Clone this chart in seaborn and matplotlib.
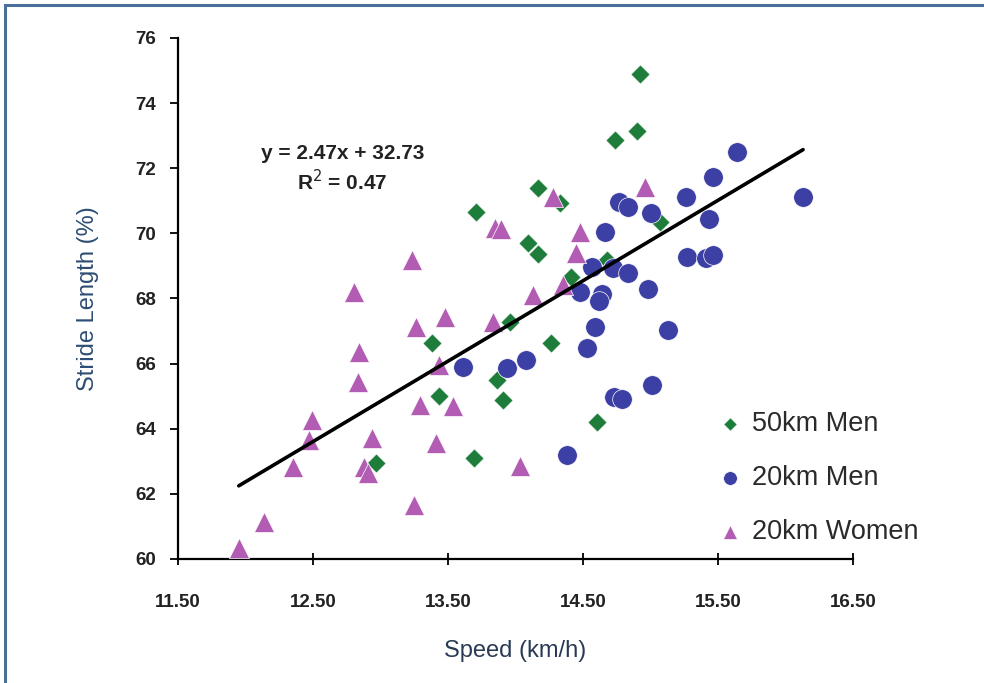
import numpy as np
import pandas as pd
import matplotlib
matplotlib.use("Agg")
import matplotlib.pyplot as plt
import seaborn as sns
from matplotlib.patches import Rectangle

# ---- data ----
speed_50m = [14.92, 14.90, 14.74, 14.17, 14.33, 13.71, 14.09, 14.17, 14.41, 13.96,
             13.38, 14.26, 13.86, 13.43, 13.91, 13.69, 14.60, 12.97, 14.68, 15.07]
stride_50m = [74.89, 73.14, 72.87, 71.39, 70.93, 70.66, 69.70, 69.37, 68.66, 67.28,
              66.63, 66.63, 65.50, 65.00, 64.88, 63.10, 64.21, 62.95, 69.18, 70.35]

speed_20m = [15.64, 15.46, 16.13, 15.26, 14.77, 14.83, 15.00, 15.43, 14.66, 14.57,
             14.72, 14.83, 15.27, 15.41, 15.46, 14.48, 14.64, 14.62, 14.98, 14.59,
             15.13, 14.53, 14.08, 13.94, 13.61, 15.01, 14.73, 14.79, 14.38]
stride_20m = [72.50, 71.73, 71.12, 71.12, 70.96, 70.81, 70.63, 70.44, 70.04, 68.97,
              68.94, 68.78, 69.27, 69.24, 69.35, 68.20, 68.15, 67.92, 68.30, 67.12,
              67.03, 66.48, 66.11, 65.86, 65.90, 65.34, 64.97, 64.92, 63.19]

speed_20w = [14.96, 14.28, 13.85, 13.89, 14.48, 13.23, 14.45, 14.35, 14.13, 12.80,
             13.48, 13.26, 13.83, 13.43, 12.84, 12.83, 13.29, 13.54, 12.49, 12.47,
             12.94, 13.41, 12.35, 12.88, 12.91, 14.03, 13.25, 12.14, 11.95]
stride_20w = [71.42, 71.12, 70.16, 70.14, 70.04, 69.18, 69.40, 68.41, 68.11, 68.20,
              67.43, 67.12, 67.28, 65.96, 66.36, 65.43, 64.73, 64.70, 64.27, 63.65,
              63.71, 63.56, 62.82, 62.82, 62.64, 62.85, 61.66, 61.14, 60.34]

groups = ["50km Men", "20km Men", "20km Women"]
slope, intercept = 2.47, 32.73
r2 = 0.47
x_ticks = [11.50, 12.50, 13.50, 14.50, 15.50, 16.50]
y_ticks = [60, 62, 64, 66, 68, 70, 72, 74, 76]

df = pd.concat([
    pd.DataFrame({"Speed": speed_50m, "Stride": stride_50m, "Group": groups[0]}),
    pd.DataFrame({"Speed": speed_20m, "Stride": stride_20m, "Group": groups[1]}),
    pd.DataFrame({"Speed": speed_20w, "Stride": stride_20w, "Group": groups[2]}),
], ignore_index=True)

sns.set_theme(style="white")
plt.rcParams['font.family'] = ['Liberation Sans', 'DejaVu Sans']

palette = {"50km Men": "#1f7d3b", "20km Men": "#3c3fa3", "20km Women": "#b25db3"}
markers = {"50km Men": "D", "20km Men": "o", "20km Women": "^"}
sizes = {"50km Men": 95, "20km Men": 200, "20km Women": 210}

fig = plt.figure(figsize=(9.84, 6.83), dpi=100)
ax = fig.add_axes([0.1809, 0.1816, 0.8669 - 0.1809, 0.9444 - 0.1816])

for g in groups:
    sub = df[df["Group"] == g]
    sns.scatterplot(data=sub, x="Speed", y="Stride", color=palette[g], marker=markers[g],
                    s=sizes[g], edgecolor="white", linewidth=0.5, label=g, ax=ax, zorder=3)

# trend line over the data range
xs = np.array([df["Speed"].min(), df["Speed"].max()])
ax.plot(xs, slope * xs + intercept, color="black", lw=2.6, zorder=4)

ax.text(12.72, 72.45, f"y = {slope:.2f}x + {intercept:.2f}", ha="center", va="center",
        fontsize=15, fontweight="bold", color="#222222")
ax.text(12.72, 71.6, f"R$^2$ = {r2:.2f}", ha="center", va="center",
        fontsize=15, fontweight="bold", color="#222222")

ax.set_xlim(11.5, 16.5)
ax.set_ylim(60, 76)
ax.set_xticks(x_ticks)
ax.set_xticklabels([f"{t:.2f}" for t in x_ticks])
ax.set_yticks(y_ticks)
ax.set_yticklabels([str(t) for t in y_ticks])
for lab in ax.get_xticklabels() + ax.get_yticklabels():
    lab.set_fontweight("bold")
    lab.set_fontsize(13.5)
    lab.set_color("#222222")

sns.despine(ax=ax)
for sp in ["left", "bottom"]:
    ax.spines[sp].set_color("black")
    ax.spines[sp].set_linewidth(1.6)
ax.tick_params(axis="x", direction="inout", length=8, width=1.3, color="black", pad=21)
ax.tick_params(axis="y", direction="out", length=6, width=1.3, color="black", pad=10)
ax.tick_params(bottom=True, left=True)

ax.set_xlabel("Speed (km/h)", fontsize=17, color="#2a3a55", labelpad=21)
ax.set_ylabel("Stride Length (%)", fontsize=17, color="#2d4d74", labelpad=26)

leg = ax.legend(loc="upper left", bbox_to_anchor=(0.762, 0.33), frameon=False,
                fontsize=19.5, markerscale=0.7, handletextpad=0.3, labelspacing=1.02,
                handlelength=1.0)
for t in leg.get_texts():
    t.set_color("#2a2a2a")

fig.patches.append(Rectangle((0.0055, -0.2), 1.5, 1.2 - 0.0073, transform=fig.transFigure,
                             fill=False, edgecolor="#4a6f98", lw=2.2))

fig.savefig("out.png", dpi=100)
